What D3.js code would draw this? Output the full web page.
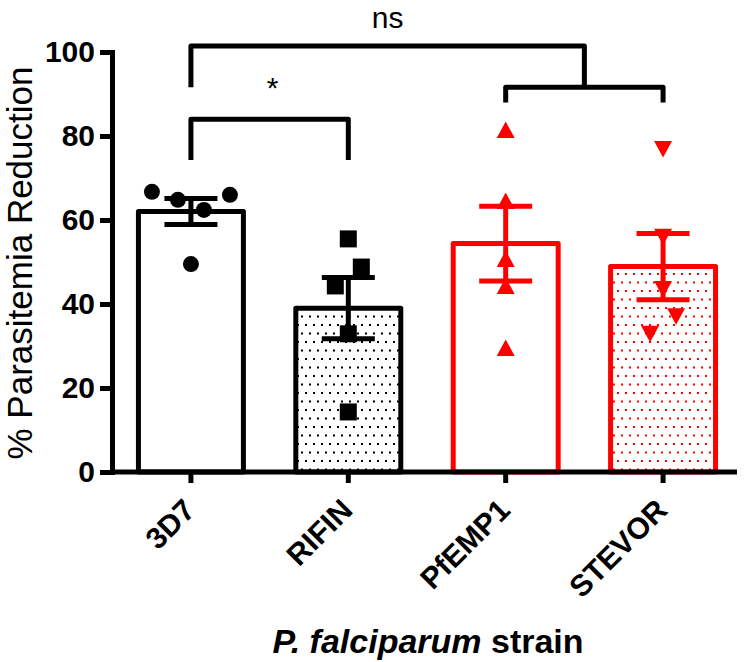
<!DOCTYPE html>
<html><head><meta charset="utf-8">
<script src="https://cdn.jsdelivr.net/npm/d3@7"></script>
<style>body{margin:0;background:#fff}svg{display:block;background:#fff}</style>
</head><body><svg id="c" width="744" height="662"></svg>
<script>
// ---------- data ----------
const categories = ["3D7", "RIFIN", "PfEMP1", "STEVOR"];
const means = [62.0, 39.0, 54.4, 48.9];
const sems = [3.1, 7.3, 8.9, 7.9];
const barColors = ["#000000", "#000000", "#ff0000", "#ff0000"];
const barDotted = [false, true, false, true];
const markerTypes = ["circle", "square", "triangleUp", "triangleDown"];
const points3D7 = [66.7, 64.8, 49.5, 62.4, 66.0];
const pointsRIFIN = [55.5, 48.8, 44.3, 32.9, 14.3];
const pointsPfEMP1 = [81.4, 64.5, 50.7, 44.3, 29.5];
const pointsSTEVOR = [76.9, 56.0, 43.6, 37.1, 32.9];
const jitter3D7 = [-3, -1, 0, 1, 3];
const jitterRIFIN = [0, 1, -1, 0, 0];
const jitterPfEMP1 = [0, 0, 0, 0, 0];
const jitterSTEVOR = [0, 0, 0, 1, -1];
const yTicks = [0, 20, 40, 60, 80, 100];
const yLabel = "% Parasitemia Reduction";
const xLabelItalic = "P. falciparum";
const xLabelRest = " strain";
const sigStar = "*";
const sigNs = "ns";

const allPoints = [points3D7, pointsRIFIN, pointsPfEMP1, pointsSTEVOR];
const allJitter = [jitter3D7, jitterRIFIN, jitterPfEMP1, jitterSTEVOR];

// ---------- layout ----------
const FONT = "'Liberation Sans', Arial, sans-serif";
const svg = d3.select("#c");
const y = d3.scaleLinear().domain([0, 100]).range([472, 52]);
const x = d3.scaleBand().domain(categories).range([112, 742]).paddingInner(0.333).paddingOuter(0.168);
const cx = c => x(c) + x.bandwidth() / 2;
const SW = 5;
const jitterStep = 13;

// patterns
const defs = svg.append("defs");
["#000000", "#ff0000"].forEach((col, i) => {
  const p = defs.append("pattern").attr("id", "dots" + i)
    .attr("patternUnits", "userSpaceOnUse").attr("width", 8).attr("height", 17);
  p.append("rect").attr("width", 8).attr("height", 17).attr("fill", "#fff");
  p.append("rect").attr("x", 1).attr("y", 1).attr("width", 2).attr("height", 2).attr("fill", col);
  p.append("rect").attr("x", 5).attr("y", 9.5).attr("width", 2).attr("height", 2).attr("fill", col);
});

// bars
const barData = categories.map((c, i) => ({c, m: means[i], s: sems[i], col: barColors[i], dot: barDotted[i], mk: markerTypes[i], pts: allPoints[i], jit: allJitter[i]}));
svg.append("g").selectAll("rect").data(barData).join("rect")
  .attr("x", d => x(d.c)).attr("width", x.bandwidth())
  .attr("y", d => y(d.m)).attr("height", d => y(0) - y(d.m))
  .attr("fill", d => d.dot ? (d.col === "#000000" ? "url(#dots0)" : "url(#dots1)") : "#fff")
  .attr("stroke", d => d.col).attr("stroke-width", SW).attr("stroke-linejoin", "round");

// points
const markerPath = (type) => {
  if (type === "circle") return d3.symbol(d3.symbolCircle, Math.PI * 8 * 8)();
  if (type === "square") return "M-8.5,-8.5H8.5V8.5H-8.5Z";
  if (type === "triangleUp") return "M0,-8.5L9,8L-9,8Z";
  return "M0,8.5L9,-8L-9,-8Z";
};
barData.forEach(d => {
  svg.append("g").selectAll("path").data(d.pts.map((v, j) => ({v, j: d.jit[j]}))).join("path")
    .attr("d", markerPath(d.mk))
    .attr("transform", p => `translate(${cx(d.c) + p.j * jitterStep},${y(p.v)})`)
    .attr("fill", d.col);
});

// error bars
const eb = svg.append("g").selectAll("g").data(barData).join("g").attr("stroke", d => d.col).attr("stroke-width", SW);
eb.append("line").attr("x1", d => cx(d.c)).attr("x2", d => cx(d.c)).attr("y1", d => y(d.m - d.s)).attr("y2", d => y(d.m + d.s));
eb.append("line").attr("x1", d => cx(d.c) - 26.5).attr("x2", d => cx(d.c) + 26.5).attr("y1", d => y(d.m + d.s)).attr("y2", d => y(d.m + d.s));
eb.append("line").attr("x1", d => cx(d.c) - 26.5).attr("x2", d => cx(d.c) + 26.5).attr("y1", d => y(d.m - d.s)).attr("y2", d => y(d.m - d.s));

// axes
const yAxis = svg.append("g").attr("transform", "translate(112,0)")
  .call(d3.axisLeft(y).tickValues(yTicks).tickSize(12).tickSizeOuter(0).tickPadding(5));
yAxis.select(".domain").attr("stroke-width", SW).attr("stroke-linecap", "square");
yAxis.selectAll(".tick line").attr("stroke-width", SW);
yAxis.selectAll(".tick text").attr("font-family", FONT).attr("font-size", 30).attr("font-weight", "bold").attr("fill", "#000");

const xAxis = svg.append("g").attr("transform", "translate(0,472)")
  .call(d3.axisBottom(x).tickSize(11).tickSizeOuter(0));
xAxis.select(".domain").attr("d", "M112,0H737").attr("stroke-width", SW);
xAxis.selectAll(".tick line").attr("stroke-width", SW);
xAxis.selectAll(".tick text").attr("font-family", FONT).attr("font-size", 30).attr("font-weight", "bold").attr("fill", "#000")
  .attr("x", 0).attr("y", 0).attr("dy", 0).attr("text-anchor", "end")
  .attr("transform", "translate(6,40) rotate(-45)");

// axis titles
svg.append("text").attr("transform", `translate(32,${(y(0) + y(100)) / 2 + 1}) rotate(-90)`)
  .attr("text-anchor", "middle").attr("font-family", FONT).attr("font-size", 35).text(yLabel);
const xt = svg.append("text").attr("x", 428).attr("y", 653).attr("text-anchor", "middle")
  .attr("font-family", FONT).attr("font-size", 34).attr("font-weight", "bold");
xt.append("tspan").attr("font-style", "italic").text(xLabelItalic);
xt.append("tspan").text(xLabelRest);

// significance brackets
const br = svg.append("g").attr("fill", "none").attr("stroke", "#000").attr("stroke-width", SW).attr("stroke-linejoin", "round");
const xa = cx("3D7"), xb = cx("RIFIN"), xc = cx("PfEMP1"), xd = cx("STEVOR");
const midCD = (xc + xd) / 2;
br.append("path").attr("d", `M${xa},${y(74.3)}V${y(84)}H${xb}V${y(74.3)}`);
br.append("path").attr("d", `M${xc},${y(88)}V${y(91.6)}H${xd}V${y(88)}`);
br.append("path").attr("d", `M${xa},${y(91.6)}V${y(101.4)}H${midCD}V${y(91.6)}`);
svg.append("text").attr("x", (xa + xb) / 2 + 3).attr("y", 98).attr("text-anchor", "middle")
  .attr("font-family", FONT).attr("font-size", 30).text(sigStar);
svg.append("text").attr("x", (xa + midCD) / 2).attr("y", 28).attr("text-anchor", "middle")
  .attr("font-family", FONT).attr("font-size", 30).text(sigNs);
</script></body></html>
